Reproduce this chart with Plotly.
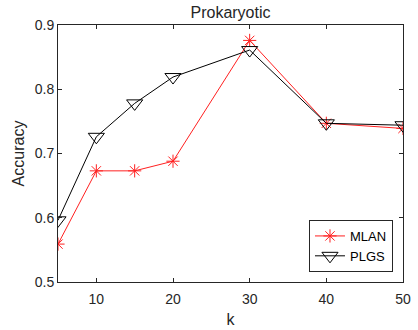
import plotly.graph_objects as go

k = [5, 10, 15, 20, 30, 40, 50]
mlan = [0.559, 0.673, 0.673, 0.688, 0.876, 0.747, 0.739]
plgs = [0.596, 0.726, 0.778, 0.819, 0.861, 0.747, 0.744]
x_ticks = [10, 20, 30, 40, 50]
y_ticks = [0.5, 0.6, 0.7, 0.8, 0.9]

FONT = "Liberation Sans, Arial"

fig = go.Figure()
fig.add_trace(go.Scatter(x=k, y=mlan, name="MLAN", mode="lines+markers",
                         line=dict(color="#ff2020", width=1),
                         marker=dict(symbol="asterisk-open", size=11, color="#ff2020",
                                     line=dict(color="#ff2020", width=1))))
fig.add_trace(go.Scatter(x=k, y=plgs, name="PLGS", mode="lines+markers",
                         line=dict(color="black", width=1),
                         marker=dict(symbol="triangle-down-open", size=14, color="black",
                                     line=dict(color="black", width=1))))

axis_common = dict(showline=True, linecolor="#262626", linewidth=1, mirror="ticks",
                   ticks="inside", ticklen=4, tickcolor="#262626", showgrid=False,
                   zeroline=False, automargin=False,
                   tickfont=dict(family=FONT, size=14, color="#262626"))
fig.update_xaxes(range=[5, 50], tickvals=x_ticks, ticktext=[str(v) for v in x_ticks],
                 ticklabelstandoff=4,
                 title=dict(text="k", font=dict(family=FONT, size=16, color="#262626"), standoff=8),
                 **axis_common)
fig.update_yaxes(range=[0.5, 0.9], tickvals=y_ticks, ticktext=[f"{v:.1f}" for v in y_ticks],
                 title=dict(text="Accuracy", font=dict(family=FONT, size=16, color="#262626"), standoff=6),
                 **axis_common)
fig.update_layout(
    width=418, height=330,
    margin=dict(l=58, r=15, t=25, b=48),
    paper_bgcolor="white", plot_bgcolor="white",
    title=dict(text="Prokaryotic", x=0.5, xref="paper", xanchor="center", y=0.962, yanchor="middle",
               font=dict(family=FONT, size=16, color="#262626")),
    legend=dict(x=0.971, y=0.039, xanchor="right", yanchor="bottom",
                bordercolor="#262626", borderwidth=1, bgcolor="white",
                font=dict(family=FONT, size=13, color="black"),
                tracegroupgap=0, itemwidth=30, traceorder="normal"),
    showlegend=True,
)
fig.write_html("out.html")
